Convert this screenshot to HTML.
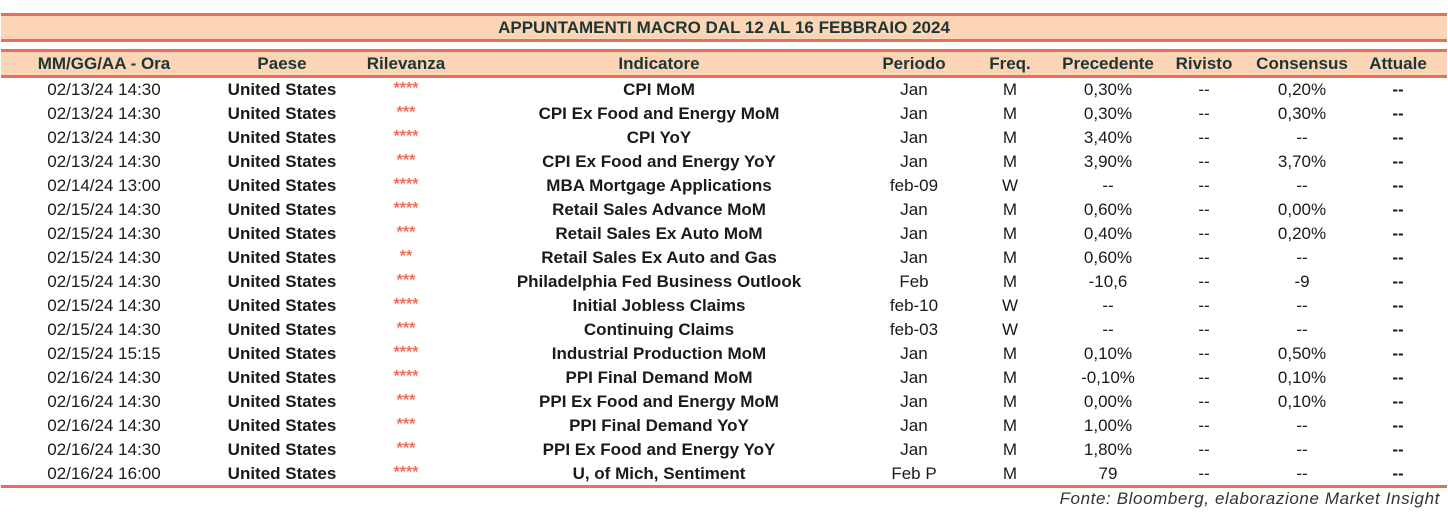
<!DOCTYPE html>
<html><head><meta charset="utf-8"><style>
body{margin:0;width:1448px;height:512px;background:#fff;position:relative;overflow:hidden;font-family:"Liberation Sans",sans-serif;color:#1a1a1a}
.ln{position:absolute;left:1px;width:1446px;height:3px;background:#E8705A}
.band{position:absolute;left:1px;width:1446px;background:#FBD5B5}
.c{position:absolute;width:400px;margin-left:-200px;text-align:center;font-size:17px;line-height:24px;white-space:nowrap}
.h{font-weight:bold;color:#1c3535;font-size:17px}
.b{font-weight:bold}
.s{color:#EE6E58;font-weight:bold;font-size:16px;line-height:20px}
</style></head><body>
<div class="ln" style="top:13px"></div>
<div class="band" style="top:16px;height:23px"></div>
<div class="ln" style="top:39px"></div>
<div class="ln" style="top:49px"></div>
<div class="band" style="top:52px;height:23px"></div>
<div class="ln" style="top:75px"></div>
<div class="ln" style="top:485px"></div>
<div class="c h" style="left:724px;top:16px;width:800px;margin-left:-400px">APPUNTAMENTI MACRO DAL 12 AL 16 FEBBRAIO 2024</div>
<div class="c h" style="left:104px;top:52px">MM/GG/AA - Ora</div>
<div class="c h" style="left:282px;top:52px">Paese</div>
<div class="c h" style="left:406px;top:52px">Rilevanza</div>
<div class="c h" style="left:659px;top:52px">Indicatore</div>
<div class="c h" style="left:914px;top:52px">Periodo</div>
<div class="c h" style="left:1010px;top:52px">Freq.</div>
<div class="c h" style="left:1108px;top:52px">Precedente</div>
<div class="c h" style="left:1204px;top:52px">Rivisto</div>
<div class="c h" style="left:1302px;top:52px">Consensus</div>
<div class="c h" style="left:1398px;top:52px">Attuale</div>
<div id="rows"></div>
<script>
var d=[
["02/13/24 14:30","****","CPI MoM","Jan","M","0,30%","0,20%"],
["02/13/24 14:30","***","CPI Ex Food and Energy MoM","Jan","M","0,30%","0,30%"],
["02/13/24 14:30","****","CPI YoY","Jan","M","3,40%","--"],
["02/13/24 14:30","***","CPI Ex Food and Energy YoY","Jan","M","3,90%","3,70%"],
["02/14/24 13:00","****","MBA Mortgage Applications","feb-09","W","--","--"],
["02/15/24 14:30","****","Retail Sales Advance MoM","Jan","M","0,60%","0,00%"],
["02/15/24 14:30","***","Retail Sales Ex Auto MoM","Jan","M","0,40%","0,20%"],
["02/15/24 14:30","**","Retail Sales Ex Auto and Gas","Jan","M","0,60%","--"],
["02/15/24 14:30","***","Philadelphia Fed Business Outlook","Feb","M","-10,6","-9"],
["02/15/24 14:30","****","Initial Jobless Claims","feb-10","W","--","--"],
["02/15/24 14:30","***","Continuing Claims","feb-03","W","--","--"],
["02/15/24 15:15","****","Industrial Production MoM","Jan","M","0,10%","0,50%"],
["02/16/24 14:30","****","PPI Final Demand MoM","Jan","M","-0,10%","0,10%"],
["02/16/24 14:30","***","PPI Ex Food and Energy MoM","Jan","M","0,00%","0,10%"],
["02/16/24 14:30","***","PPI Final Demand YoY","Jan","M","1,00%","--"],
["02/16/24 14:30","***","PPI Ex Food and Energy YoY","Jan","M","1,80%","--"],
["02/16/24 16:00","****","U, of Mich, Sentiment","Feb P","M","79","--"]];
var h="";
d.forEach(function(r,i){var t=78+i*24;
function c(x,txt,cls,dy){h+='<div class="c '+(cls||'')+'" style="left:'+x+'px;top:'+(t+(dy||0))+'px">'+txt+'</div>';}
c(104,r[0]);c(282,"United States","b");c(406,r[1],"s",1);c(659,r[2],"b");c(914,r[3]);c(1010,r[4]);c(1108,r[5]);c(1204,"--");c(1302,r[6]);c(1398,"--","b");});
document.getElementById("rows").innerHTML=h;
</script>
<div style="position:absolute;right:8px;top:489px;font-size:17px;font-style:italic;color:#333;line-height:20px;letter-spacing:0.6px">Fonte: Bloomberg, elaborazione Market Insight</div>
</body></html>
